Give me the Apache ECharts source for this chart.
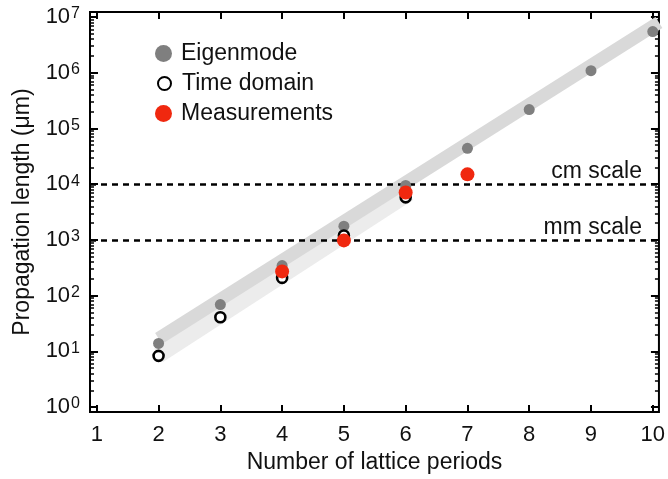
<!DOCTYPE html>
<html><head><meta charset="utf-8">
<script src="https://cdn.jsdelivr.net/npm/echarts@6/dist/echarts.min.js"></script>
<style>html,body{margin:0;padding:0;background:#fff}#c{width:668px;height:479px}</style>
</head><body><div id="c"></div>
<script>
// ---- data ----
const periods = [2, 3, 4, 5, 6, 7, 8, 9, 10];
const eigenmode = [13.9, 69, 347, 1760, 9500, 44000, 218000, 1090000, 5470000];
const timePeriods = [2, 3, 4, 5, 6];
const timeDomain = [8.3, 41, 208, 1200, 5800];
const measPeriods = [4, 5, 6, 7];
const measurements = [272, 980, 7100, 15000];
const bandEigen = [[2, 17], [10.1, 8.0e6]];
const bandTime = [[2, 8.5], [6.05, 6900]];
const xTicks = [1, 2, 3, 4, 5, 6, 7, 8, 9, 10];
const yTicks = [1, 10, 100, 1e3, 1e4, 1e5, 1e6, 1e7];
const scaleValues = [1e4, 1e3];
const scaleLabels = ['cm scale', 'mm scale'];

const yMinor = [];
for (let e = 0; e < 7; e++) for (let k = 2; k <= 9; k++) yMinor.push(k * Math.pow(10, e));

const FONT = "'Liberation Sans', Arial, sans-serif";
const TXT = '#111111';
const yMin = 0.813, yMax = 1.23e7;
const xMin = 0.89, xMax = 10.1;

function yAxisDef(opts) {
  return Object.assign({
    type: 'log', logBase: 10, min: yMin, max: yMax,
    axisLine: { show: false }, splitLine: { show: false },
    axisLabel: { show: false },
    axisTick: { show: true, inside: true, length: 8, lineStyle: { color: '#000', width: 2 }, customValues: yTicks }
  }, opts);
}

const chart = echarts.init(document.getElementById('c'), null, { renderer: 'canvas' });
chart.setOption({
  animation: false,
  backgroundColor: '#fff',
  textStyle: { fontFamily: FONT },
  grid: { left: 90, right: 6, top: 12, bottom: 65, show: true, borderColor: '#000', borderWidth: 2, backgroundColor: 'transparent' },
  legend: [
    { data: ['Eigenmode'], left: 155, top: 42, padding: 0, itemWidth: 17, itemHeight: 17, itemGap: 0,
      textStyle: { fontSize: 23, color: TXT, fontFamily: FONT, padding: [0, 0, 0, 4] } },
    { data: ['Time domain'], left: 157, top: 72, padding: 0, itemWidth: 13, itemHeight: 13, itemGap: 0,
      textStyle: { fontSize: 23, color: TXT, fontFamily: FONT, padding: [0, 0, 0, 6] } },
    { data: ['Measurements'], left: 155, top: 102, padding: 0, itemWidth: 17, itemHeight: 17, itemGap: 0,
      textStyle: { fontSize: 23, color: TXT, fontFamily: FONT, padding: [0, 0, 0, 4] } }
  ],
  xAxis: [
    { type: 'value', min: xMin, max: xMax, position: 'bottom',
      name: 'Number of lattice periods', nameLocation: 'middle', nameGap: 37,
      nameTextStyle: { fontSize: 23, color: TXT, fontFamily: FONT },
      axisLine: { show: false }, splitLine: { show: false },
      axisTick: { show: true, inside: true, length: 7, lineStyle: { color: '#000', width: 2 }, customValues: xTicks },
      axisLabel: { show: true, customValues: xTicks, fontSize: 22, color: TXT, margin: 12, fontFamily: FONT } },
    { type: 'value', min: xMin, max: xMax, position: 'top',
      axisLine: { show: false }, splitLine: { show: false }, axisLabel: { show: false },
      axisTick: { show: true, inside: true, length: 7, lineStyle: { color: '#000', width: 2 }, customValues: xTicks } }
  ],
  yAxis: [
    yAxisDef({ position: 'left',
      name: 'Propagation length (μm)', nameLocation: 'middle', nameGap: 56,
      nameTextStyle: { fontSize: 23, color: TXT, fontFamily: FONT },
      axisLabel: { show: true, customValues: yTicks, margin: 10,
        formatter: v => '{b|10}{s|' + Math.round(Math.log10(v)) + '}',
        rich: {
          b: { fontSize: 22, lineHeight: 22, color: TXT, fontFamily: FONT, verticalAlign: 'bottom' },
          s: { fontSize: 16, lineHeight: 16, color: TXT, fontFamily: FONT, verticalAlign: 'top', padding: [0, 0, 16, 1] }
        } } }),
    yAxisDef({ position: 'right' }),
    yAxisDef({ position: 'left', axisTick: { show: true, inside: true, length: 4, lineStyle: { color: '#000', width: 1.5 }, customValues: yMinor } }),
    yAxisDef({ position: 'right', axisTick: { show: true, inside: true, length: 4, lineStyle: { color: '#000', width: 1.5 }, customValues: yMinor } })
  ],
  series: [
    { name: 'bandTime', type: 'line', data: bandTime, showSymbol: false, symbol: 'none', silent: true, z: 1,
      lineStyle: { color: '#ececec', width: 16, cap: 'butt', opacity: 1 } },
    { name: 'bandEigen', type: 'line', data: bandEigen, showSymbol: false, symbol: 'none', silent: true, z: 1,
      lineStyle: { color: '#d9d9d9', width: 13, cap: 'butt', opacity: 1 },
      markLine: {
        silent: true, symbol: 'none', z: 3,
        lineStyle: { color: '#000', width: 2.5, type: [6, 5] },
        label: { show: true, position: 'insideEndTop', fontSize: 23, color: TXT, fontFamily: FONT, distance: [17, 1],
          formatter: p => p.name },
        data: scaleValues.map((v, i) => ({ yAxis: v, name: scaleLabels[i] }))
      } },
    { name: 'Eigenmode', type: 'scatter', z: 10, symbol: 'circle', symbolSize: 11,
      itemStyle: { color: '#7f7f7f', opacity: 1 },
      data: periods.map((p, i) => [p, eigenmode[i]]) },
    { name: 'Time domain', type: 'scatter', z: 11, symbol: 'circle', symbolSize: 10,
      itemStyle: { color: '#ffffff', borderColor: '#000', borderWidth: 2.6, opacity: 1 },
      data: timePeriods.map((p, i) => [p, timeDomain[i]]) },
    { name: 'Measurements', type: 'scatter', z: 12, symbol: 'circle', symbolSize: 14,
      itemStyle: { color: '#f0280f', opacity: 1 },
      data: measPeriods.map((p, i) => [p, measurements[i]]) }
  ]
});
</script></body></html>
